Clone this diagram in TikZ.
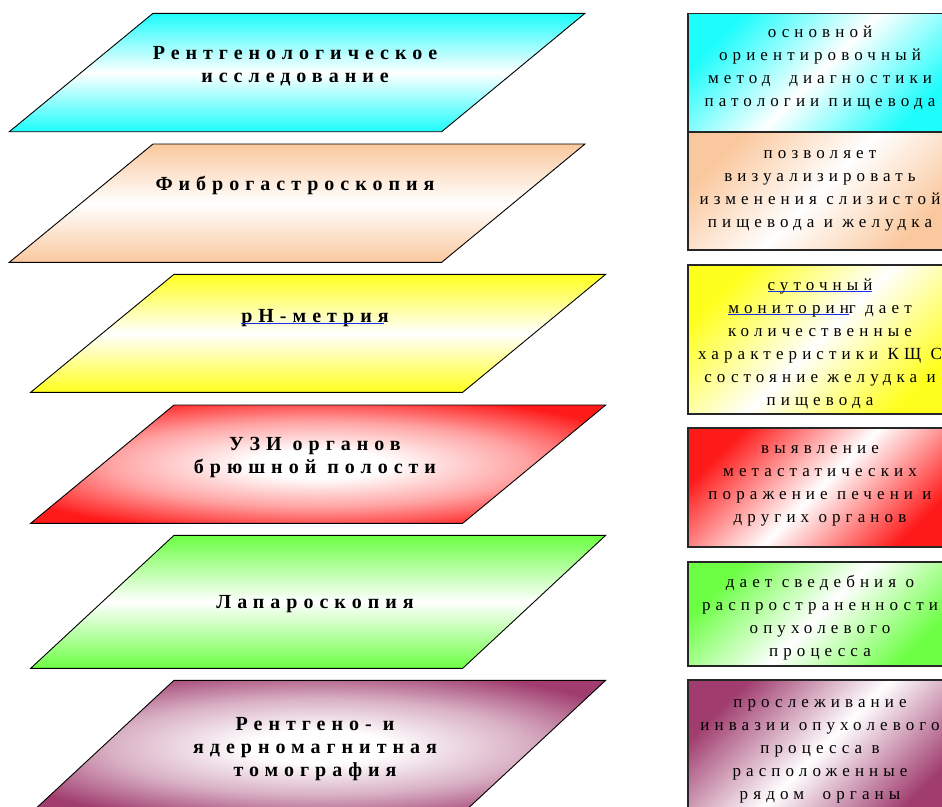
\documentclass[tikz,border=0pt]{standalone}
\usepackage{fontspec}
\setmainfont{Liberation Serif}
\newfontfamily\lfont[LetterSpace=30]{Liberation Serif}
\newfontfamily\rfont[LetterSpace=30]{Liberation Serif}
\definecolor{ccyan}{HTML}{1EFCFC}
\definecolor{cpeach}{HTML}{FAC89E}
\definecolor{cyellow}{HTML}{FFFF1E}
\definecolor{cred}{HTML}{FF1A1A}
\definecolor{cgreen}{HTML}{6CFF44}
\definecolor{cpurple}{HTML}{A03C6E}
\definecolor{ulblue}{HTML}{1A2EF0}
\pgfdeclareradialshading{glowred}{\pgfpoint{0bp}{0bp}}{color(0bp)=(white); color(6bp)=(white); color(18bp)=(cred!40!white); color(30bp)=(cred); color(50bp)=(cred)}
\pgfdeclareradialshading{glowpurple}{\pgfpoint{0bp}{0bp}}{color(0bp)=(white); color(6bp)=(white); color(18bp)=(cpurple!40!white); color(30bp)=(cpurple); color(50bp)=(cpurple)}
\newcommand\blueul[1]{\leavevmode\setbox0=\hbox{#1}\rlap{\textcolor{ulblue}{\rule[-2.4pt]{\wd0}{1.7pt}}}\box0}
\begin{document}
\begin{tikzpicture}[x=1pt,y=-1pt,
  pbox/.style={draw=black, line width=0.9pt},
  rbox/.style={draw=black!85, line width=1.3pt},
  ulline/.style={draw=ulblue, line width=1.7pt},
  ltext/.style={font=\lfont\bfseries\fontsize{20}{23}\selectfont, align=center, inner sep=0pt, anchor=base},
  rtext/.style={font=\rfont\fontsize{17}{23}\selectfont, align=center, inner sep=0pt, anchor=base}]
\useasboundingbox (0,0) rectangle (942,806);
\clip (0,0) rectangle (942,806);
% parallelograms
\path[pbox, top color=ccyan, bottom color=ccyan, middle color=white]
  (153,13.3) -- (585,13.3) -- (441.7,131.7) -- (9.3,131.7) -- cycle;
\path[pbox, top color=cpeach, bottom color=cpeach, middle color=white]
  (153,144) -- (585,144) -- (441.7,262.3) -- (9.3,262.3) -- cycle;
\path[pbox, top color=cyellow, bottom color=cyellow, middle color=white]
  (174,274.3) -- (605.7,274.3) -- (462.7,392.3) -- (30.7,392.3) -- cycle;
\path[pbox, shading=glowred]
  (174,405) -- (605.7,405) -- (462.7,523.3) -- (30.7,523.3) -- cycle;
\path[pbox, top color=cgreen, bottom color=cgreen, middle color=white]
  (174,535.3) -- (605.7,535.3) -- (462.7,668.3) -- (30.7,668.3) -- cycle;
\path[pbox, shading=glowpurple]
  (174,680.3) -- (605.7,680.3) -- (462.7,813.3) -- (30.7,813.3) -- cycle;
% right boxes
\path[rbox, top color=ccyan, bottom color=ccyan, middle color=white, shading angle=45] (688,13.3) rectangle (952,132);
\path[rbox, top color=cpeach, bottom color=cpeach, middle color=white, shading angle=45] (688,132) rectangle (952,250);
\path[rbox, top color=cyellow, bottom color=cyellow, middle color=white, shading angle=45] (688,265) rectangle (952,414);
\path[rbox, top color=cred, bottom color=cred, middle color=white, shading angle=45] (688,428) rectangle (952,547);
\path[rbox, top color=cgreen, bottom color=cgreen, middle color=white, shading angle=45] (688,562) rectangle (952,666);
\path[rbox, top color=cpurple, bottom color=cpurple, middle color=white, shading angle=45] (688,680) rectangle (952,820);
% left texts (anchor = baseline of last line)
\node[ltext] (l1) at (295,82) {Рентгенологическое\\исследование};
\node[ltext] (l2) at (295,190) {Фиброгастроскопия};
\node[ltext] (l3) at (315,322) {рН-метрия};
\draw[ulline] ([yshift=-1.6pt]l3.base west) -- ([xshift=-5pt,yshift=-1.6pt]l3.base east);
\node[ltext] (l4) at (315,473) {УЗИ органов\\брюшной полости};
\node[ltext] (l5) at (315,608) {Лапароскопия};
\node[ltext] (l6) at (315,776) {Рентгено- и\\ядерномагнитная\\томография};
% right texts (anchor = baseline of last line)
\node[rtext] (r1) at (820,106) {основной\\ориентировочный\\метод\ \ диагностики\\патологии пищевода};
\node[rtext] (r2) at (820,227) {позволяет\\визуализировать\\изменения слизистой\\пищевода и желудка};
\node[rtext] (r3) at (820,405) {\textcolor{black}{\kern0pt}\blueul{суточный}\\\blueul{мониторин}г дает\\количественные\\характеристики КЩ С\\состояние желудка и\\пищевода};
\node[rtext] (r4) at (820,522) {выявление\\метастатических\\поражение печени и\\других органов};
\node[rtext] (r5) at (820,656) {дает сведебния о\\распространенности\\опухолевого\\процесса};
\node[rtext] (r6) at (820,799) {прослеживание\\инвазии опухолевого\\процесса в\\расположенные\\рядом\ \ органы};
\end{tikzpicture}
\end{document}
